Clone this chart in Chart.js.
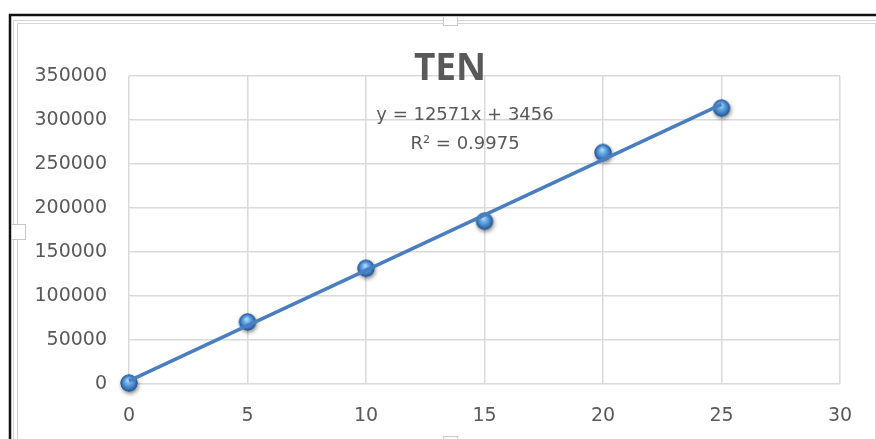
<!DOCTYPE html>
<html>
<head>
<meta charset="utf-8">
<title>TEN</title>
<script src="https://cdn.jsdelivr.net/npm/chart.js@4/dist/chart.umd.min.js"></script>
<style>
  html, body { margin: 0; padding: 0; background: #ffffff; }
  #wrap { position: relative; width: 876px; height: 439px; }
  canvas { display: block; }
</style>
</head>
<body>
<div id="wrap"><canvas id="chart" width="876" height="439"></canvas></div>
<script>
// Measurements: concentration step vs. signal
const xValues = [0, 5, 10, 15, 20, 25];
const yValues = [1000, 70500, 131500, 185000, 263000, 313500];

// Linear trendline coefficients as reported on the chart
const trendSlope = 12571;
const trendIntercept = 3456;
const trendRange = [0, 25];
const rSquared = '0.9975';

const chartTitle = 'TEN';
const xTicks = [0, 5, 10, 15, 20, 25, 30];
const yTicks = [0, 50000, 100000, 150000, 200000, 250000, 300000, 350000];

const textGray = '#595959';
const gridGray = '#d9d9d9';
const lineBlue = '#4a7ebf';
const tickFont = { family: 'DejaVu Sans', size: 19 };

// Glossy sphere marker with a soft drop shadow
function makeMarker() {
  const size = 30;
  const c = document.createElement('canvas');
  c.width = size; c.height = size;
  const ctx = c.getContext('2d');
  const cx = size / 2, cy = size / 2, r = 8.5;
  ctx.save();
  ctx.shadowColor = 'rgba(0,0,0,0.5)';
  ctx.shadowBlur = 4;
  ctx.shadowOffsetX = 1;
  ctx.shadowOffsetY = 2;
  ctx.beginPath();
  ctx.arc(cx, cy, r, 0, Math.PI * 2);
  ctx.fillStyle = '#2a568f';
  ctx.fill();
  ctx.restore();
  const g = ctx.createRadialGradient(cx - 1, cy - 3, 0.5, cx, cy, r);
  g.addColorStop(0, '#a9dcfa');
  g.addColorStop(0.35, '#68aae3');
  g.addColorStop(0.75, '#3a79bf');
  g.addColorStop(1, '#26508a');
  ctx.beginPath();
  ctx.arc(cx, cy, r, 0, Math.PI * 2);
  ctx.fillStyle = g;
  ctx.fill();
  return c;
}

const points = xValues.map((x, i) => ({ x, y: yValues[i] }));
const trendPoints = trendRange.map(x => ({ x, y: trendSlope * x + trendIntercept }));

// Frame of the embedded chart object (selection border and handles)
const framePlugin = {
  id: 'frame',
  beforeDraw(chart) {
    const ctx = chart.ctx;
    ctx.save();
    ctx.fillStyle = '#ffffff';
    ctx.fillRect(0, 0, chart.width, chart.height);
    // outer dark border
    ctx.strokeStyle = '#111111';
    ctx.lineWidth = 2.5;
    ctx.beginPath();
    ctx.moveTo(10, 439);
    ctx.lineTo(10, 15);
    ctx.lineTo(876, 15);
    ctx.stroke();
    // inner grey borders
    ctx.strokeStyle = '#d4d4d4';
    ctx.lineWidth = 1;
    ctx.beginPath();
    ctx.moveTo(13.5, 439); ctx.lineTo(13.5, 20.5); ctx.lineTo(876, 20.5);
    ctx.moveTo(17.5, 439); ctx.lineTo(17.5, 23.5); ctx.lineTo(876, 23.5);
    ctx.moveTo(875.5, 23.5); ctx.lineTo(875.5, 439);
    ctx.stroke();
    // handles
    ctx.fillStyle = '#ffffff';
    ctx.strokeStyle = '#c8c8c8';
    ctx.lineWidth = 1;
    [[443.5, 16.5, 14, 9], [11.5, 224.5, 14, 15], [443.5, 436.5, 14, 6]].forEach(([x, y, w, h]) => {
      ctx.fillRect(x, y, w, h);
      ctx.strokeRect(x, y, w, h);
    });
    ctx.restore();
  },
  afterDraw(chart) {
    const ctx = chart.ctx;
    ctx.save();
    ctx.fillStyle = textGray;
    ctx.textAlign = 'center';
    ctx.textBaseline = 'alphabetic';
    ctx.font = 'bold 37px "Open Sans"';
    ctx.fillText(chartTitle, 450, 80);
    ctx.font = '18px "DejaVu Sans"';
    ctx.fillText('y = ' + trendSlope + 'x + ' + trendIntercept, 465, 120);
    ctx.fillText('R² = ' + rSquared, 465, 149);
    ctx.restore();
  }
};

new Chart(document.getElementById('chart'), {
  type: 'scatter',
  data: {
    datasets: [
      {
        label: 'Linear trend',
        data: trendPoints,
        showLine: true,
        borderColor: lineBlue,
        borderWidth: 3.5,
        pointRadius: 0,
        fill: false,
        clip: false,
        order: 0
      },
      {
        label: 'TEN',
        data: points,
        pointStyle: makeMarker(),
        pointRadius: 8,
        showLine: false,
        clip: false,
        order: 1
      }
    ]
  },
  options: {
    responsive: false,
    animation: false,
    events: [],
    layout: { padding: { top: 76, right: 36, left: 0, bottom: 0 } },
    plugins: {
      legend: { display: false },
      title: { display: false },
      tooltip: { enabled: false }
    },
    scales: {
      x: {
        type: 'linear',
        min: 0,
        max: 30,
        afterBuildTicks(scale) { scale.ticks = xTicks.map(v => ({ value: v })); },
        afterFit(scale) { scale.height = 55; },
        grid: { color: gridGray, lineWidth: 1.5, drawTicks: false },
        border: { display: false },
        ticks: { color: textGray, font: tickFont, padding: 21, maxRotation: 0 }
      },
      y: {
        type: 'linear',
        min: 0,
        max: 350000,
        afterBuildTicks(scale) { scale.ticks = yTicks.map(v => ({ value: v })); },
        afterFit(scale) { scale.width = 129; },
        grid: { color: gridGray, lineWidth: 1.5, drawTicks: false },
        border: { display: false },
        ticks: { color: textGray, font: tickFont, padding: 22, callback: v => String(v) }
      }
    }
  },
  plugins: [framePlugin]
});
</script>
</body>
</html>
